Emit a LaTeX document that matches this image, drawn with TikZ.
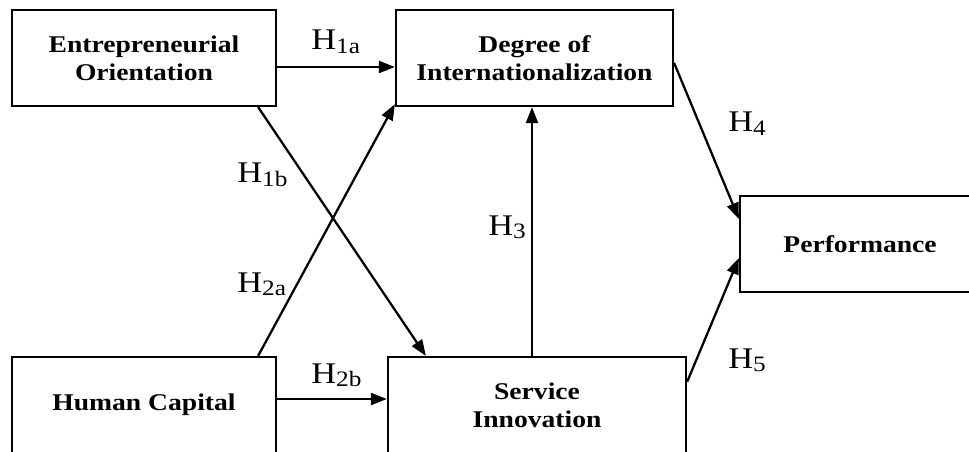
\documentclass[tikz,border=0pt]{standalone}
\usepackage{fontspec}
\setmainfont{Liberation Serif}[FakeStretch=1.15]
\usepackage{tikz}
\usetikzlibrary{arrows.meta, positioning, calc}

\newcommand{\hname}[1]{H\raisebox{-0.12em}{\fontsize{16.5}{18}\selectfont #1}}

\begin{document}
\begin{tikzpicture}[
    x=0.75pt, y=-0.75pt,
    construct/.style={draw, line width=1.7pt, minimum height=72pt, inner sep=0pt,
      align=center, font=\fontsize{18}{21}\selectfont\bfseries},
    hlabel/.style={anchor=base west, inner sep=0pt, font=\fontsize{22.5}{26}\selectfont},
    link/.style={line width=1.7pt, -{Triangle[length=12pt, width=9pt]}}
  ]
  \useasboundingbox (0,0) rectangle (969,452);
  \clip (0,0) rectangle (969,452);

  % Nodos
  \node[construct, minimum width=198pt] (eo) at (144,58) {Entrepreneurial\\Orientation};
  \node[construct, minimum width=207.75pt] (doi) at (534.5,58) {Degree of\\Internationalization};
  \node[construct, minimum width=180pt] (perf) at (860,244) {Performance};
  \node[construct, minimum width=198pt] (hc) at (144,405) {Human Capital};
  \node[construct, minimum width=223.5pt] (si) at (537,405) {Service\\Innovation};

  \node[hlabel] (h1a) at (311,50) {\hname{1a}};
  \node[hlabel] (h1b) at (237,183) {\hname{1b}};
  \node[hlabel] (h2a) at (237,292) {\hname{2a}};
  \node[hlabel] (h2b) at (311,383) {\hname{2b}};
  \node[hlabel] (h3) at (488,235) {\hname{3}};
  \node[hlabel] (h4) at (728,132) {\hname{4}};
  \node[hlabel] (h5) at (728,368) {\hname{5}};

  \draw[link] ($(eo.east)+(0,9)$) -- ($(doi.west)+(0,9)$);
  \draw[link] ($(eo.south east)+(-19,0)$) -- ($(si.north west)+(39,0)$);
  \draw[link] ($(hc.north east)+(-19,0)$) -- ($(doi.south west)+(0,-3)$);
  \draw[link] ($(hc.east)+(0,-6)$) -- ($(si.west)+(0,-6)$);
  \draw[link] ($(si.north)+(-5,0)$) -- ($(doi.south)+(-2.5,0)$);
  \draw[link] ($(doi.east)+(0,5)$) -- ($(perf.north west)+(0,24)$);
  \draw[link] ($(si.north east)+(0,26)$) -- ($(perf.south west)+(0,-35)$);

\end{tikzpicture}
\end{document}
